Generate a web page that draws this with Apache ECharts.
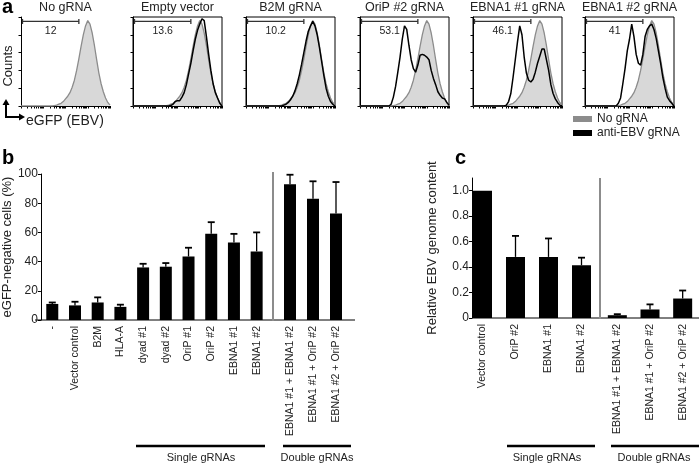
<!DOCTYPE html>
<html><head><meta charset="utf-8">
<script src="https://cdn.jsdelivr.net/npm/echarts@6/dist/echarts.min.js"></script>
<style>html,body{margin:0;padding:0;background:#fff}#c{width:699px;height:464px}</style>
</head><body><div id="c"></div><script>
// ---------------- data ----------------
const histTitles = ['No gRNA', 'Empty vector', 'B2M gRNA', 'OriP #2 gRNA', 'EBNA1 #1 gRNA', 'EBNA1 #2 gRNA'];
const gatePct = ['12', '13.6', '10.2', '53.1', '46.1', '41'];
const gateRange = [0, 65];
const histX = [0,2.5,5,7.5,10,12.5,15,17.5,20,22.5,25,27.5,30,32.5,35,37.5,40,42.5,45,47.5,50,52.5,55,57.5,60,62.5,65,67.5,70,72.5,75,77.5,80,82.5,85,87.5,90,92.5,95,97.5,100];
const noGrna      = [0,0,0,0,0,0,0,0,0,0,0,0,0,0,0, 0.5,1,2,3,5,8,11,15,21,29,40,53,67,80,90,96,92,82,68,52,37,25,16,9,4,1];
const antiEmpty   = [0,0,0,0,0,0,0,0,0,0,0,0,0,0,0,0,0, 0.5,2,5,6,6,10,15,24,36,48,62,75,85,92,98,96,78,58,40,25,15,9,3,0];
const antiB2M     = [0,0,0,0,0,0,0,0,0,0,0,0,0,0,0,0,0, 1,2,4,7,11,17,25,35,47,60,73,84,90,95,90,80,66,50,34,20,11,5,2,0];
const antiOriP2   = [0,0,0,0,0,0,0,0,0,0,0,0,0,0, 2,10,22,38,55,75,90,86,68,52,42,38,46,57,58,57,55,52,40,31,24,16,12,9,8,4,1];
const antiEbna1_1 = [0,0,0,0,0,0,0,0,0,0,0,0,0,0,0, 1,5,14,32,52,72,90,80,55,37,29,27,30,38,48,56,64,64,52,40,24,14,8,4,1,0];
const antiEbna1_2 = [0,0,0,0,0,0,0,0,0,0,0,0,0,0,0, 3,9,25,42,62,75,92,78,58,48,46,58,78,86,90,92,86,76,62,48,32,20,10,6,3,0];
const antiCurves = [null, antiEmpty, antiB2M, antiOriP2, antiEbna1_1, antiEbna1_2];

const bCatSingle = ['-', 'Vector control', 'B2M', 'HLA-A', 'dyad #1', 'dyad #2', 'OriP #1', 'OriP #2', 'EBNA1 #1', 'EBNA1 #2'];
const bValSingle = [11, 10, 12, 9, 36, 36.5, 43.5, 59, 53, 47];
const bErrSingle = [1, 2.5, 3.5, 1.5, 2.5, 2.5, 6, 8, 6, 13];
const bCatDouble = ['EBNA1 #1 + EBNA1 #2', 'EBNA1 #1 + OriP #2', 'EBNA1 #2 + OriP #2'];
const bValDouble = [93, 83, 73];
const bErrDouble = [6.5, 12, 21.5];
const bYTicks = [0, 20, 40, 60, 80, 100];

const cCatSingle = ['Vector control', 'OriP #2', 'EBNA1 #1', 'EBNA1 #2'];
const cValSingle = [1.0, 0.48, 0.48, 0.414];
const cErrSingle = [0, 0.165, 0.145, 0.06];
const cCatDouble = ['EBNA1 #1 + EBNA1 #2', 'EBNA1 #1 + OriP #2', 'EBNA1 #2 + OriP #2'];
const cValDouble = [0.022, 0.067, 0.153];
const cErrDouble = [0.008, 0.04, 0.063];
const cYTicks = [0, 0.2, 0.4, 0.6, 0.8, 1.0];

// ---------------- layout / style ----------------
const FONT = '"Liberation Sans", Arial, Helvetica, sans-serif';
const TXT = '#222';
const histLeft = [21, 133, 246, 360, 473, 585];
const histW = 89, histTop = 17, histH = 89;
const histTickPos = [];
[0, 25, 50, 75].forEach(d => { for (let k = 1; k <= 9; k++) histTickPos.push(d + 25 * Math.log10(k)); });
histTickPos.push(100);

const grids = [], xAxes = [], yAxes = [], series = [];
histLeft.forEach((l, i) => {
  grids.push({left: l, top: histTop, width: histW, height: histH, show: i > 0, borderColor: '#000', borderWidth: 1, backgroundColor: 'transparent'});
  xAxes.push({gridIndex: i, type: 'value', min: 0, max: 100,
    axisLine: {show: true, lineStyle: {color: '#000', width: 1}},
    axisTick: {show: true, length: 2.5, customValues: histTickPos, lineStyle: {color: '#000', width: 1}},
    axisLabel: {show: false}, splitLine: {show: false}});
  yAxes.push({gridIndex: i, type: 'value', min: 0, max: 100, interval: 20,
    axisLine: {show: true, lineStyle: {color: '#000', width: 1}},
    axisTick: {show: true, length: 2.5, lineStyle: {color: '#000', width: 1}},
    axisLabel: {show: false}, splitLine: {show: false}});
  series.push({type: 'line', name: 'No gRNA', xAxisIndex: i, yAxisIndex: i, symbol: 'none', z: 1,
    data: histX.map((x, k) => [x, noGrna[k]]), color: '#8c8c8c',
    lineStyle: {color: '#8c8c8c', width: 1.3}, areaStyle: {color: '#d8d8d8', opacity: 1}, silent: true});
  if (antiCurves[i]) {
    series.push({type: 'line', name: 'anti-EBV gRNA', xAxisIndex: i, yAxisIndex: i, symbol: 'none', z: 2,
      data: histX.map((x, k) => [x, antiCurves[i][k]]), color: '#000',
      lineStyle: {color: '#000', width: 1.5}, silent: true});
  }
  const pct = gatePct[i];
  series.push({type: 'custom', xAxisIndex: i, yAxisIndex: i, z: 3, silent: true,
    data: [[gateRange[0], gateRange[1], 95]],
    renderItem(params, api) {
      const a = api.coord([api.value(0), api.value(2)]);
      const b = api.coord([api.value(1), api.value(2)]);
      a[0] += 1.5;
      const ls = {stroke: '#333', lineWidth: 1.3};
      return {type: 'group', children: [
        {type: 'line', shape: {x1: a[0], y1: a[1], x2: b[0], y2: b[1]}, style: ls},
        {type: 'line', shape: {x1: a[0], y1: a[1] - 2.5, x2: a[0], y2: a[1] + 2.5}, style: ls},
        {type: 'line', shape: {x1: b[0], y1: b[1] - 2.5, x2: b[0], y2: b[1] + 2.5}, style: ls},
        {type: 'text', style: {text: pct, x: (a[0] + b[0]) / 2, y: a[1] + 4, align: 'center', verticalAlign: 'top',
          textAlign: 'center', textVerticalAlign: 'top', fontSize: 10.5, fontFamily: FONT, fill: TXT}}
      ]};
    }});
});

// bar panels
function catAxis(gi, data) {
  return {gridIndex: gi, type: 'category', data: data,
    axisLine: {show: false}, axisTick: {show: false}, splitLine: {show: false},
    axisLabel: {interval: 0, rotate: 90, fontSize: 10.5, color: TXT, margin: 6, fontFamily: FONT}};
}
function errSeries(gi, vals, errs) {
  return {type: 'custom', xAxisIndex: gi, yAxisIndex: gi, z: 3, silent: true,
    encode: {x: 0, y: [1, 2]},
    data: vals.map((v, i) => [i, v, v + errs[i]]),
    renderItem(params, api) {
      if (api.value(2) <= api.value(1)) return null;
      const lo = api.coord([api.value(0), api.value(1)]);
      const hi = api.coord([api.value(0), api.value(2)]);
      const w = 3.5;
      return {type: 'group', children: [
        {type: 'line', shape: {x1: lo[0], y1: lo[1], x2: hi[0], y2: hi[1]}, style: {stroke: '#000', lineWidth: 1.3}},
        {type: 'line', shape: {x1: hi[0] - w, y1: hi[1], x2: hi[0] + w, y2: hi[1]}, style: {stroke: '#000', lineWidth: 1.8}}
      ]};
    }};
}
const bTop = 174, bH = 146, cTop = 178, cH = 140;
// grid 6: b single, 7: b double, 8: c single, 9: c double
grids.push({left: 36, top: bTop, width: 232, height: bH});
grids.push({left: 278.5, top: bTop, width: 69, height: bH});
grids.push({left: 466, top: cTop, width: 132, height: cH});
grids.push({left: 601, top: cTop, width: 100, height: cH});
xAxes.push(catAxis(6, bCatSingle), catAxis(7, bCatDouble), catAxis(8, cCatSingle), catAxis(9, cCatDouble));
yAxes.push({gridIndex: 6, type: 'value', min: 0, max: 100,
  axisLine: {show: true, lineStyle: {color: '#000', width: 1}},
  axisTick: {show: true, length: 3, customValues: bYTicks, lineStyle: {color: '#000'}},
  axisLabel: {customValues: bYTicks, fontSize: 12, color: TXT, margin: 3, fontFamily: FONT},
  splitLine: {show: false},
  name: 'eGFP-negative cells (%)', nameLocation: 'middle', nameGap: 22,
  nameTextStyle: {fontSize: 13, color: TXT, fontFamily: FONT}});
yAxes.push({gridIndex: 7, type: 'value', min: 0, max: 100, show: false});
yAxes.push({gridIndex: 8, type: 'value', min: 0, max: 1.1, offset: -6,
  axisLine: {show: true, lineStyle: {color: '#000', width: 1}},
  axisTick: {show: true, length: 3, customValues: cYTicks, lineStyle: {color: '#000'}},
  axisLabel: {customValues: cYTicks, fontSize: 12, color: TXT, margin: 3, fontFamily: FONT,
    formatter: v => v === 0 ? '0' : v.toFixed(1)},
  splitLine: {show: false},
  name: 'Relative EBV genome content', nameLocation: 'middle', nameGap: 33,
  nameTextStyle: {fontSize: 13, color: TXT, fontFamily: FONT}});
yAxes.push({gridIndex: 9, type: 'value', min: 0, max: 1.1, show: false});

series.push({type: 'bar', xAxisIndex: 6, yAxisIndex: 6, data: bValSingle, barWidth: 12, itemStyle: {color: '#000'}, silent: true});
series.push({type: 'bar', xAxisIndex: 7, yAxisIndex: 7, data: bValDouble, barWidth: 12, itemStyle: {color: '#000'}, silent: true});
series.push({type: 'bar', xAxisIndex: 8, yAxisIndex: 8, data: cValSingle, barWidth: 19, itemStyle: {color: '#000'}, silent: true});
series.push({type: 'bar', xAxisIndex: 9, yAxisIndex: 9, data: cValDouble, barWidth: 19, itemStyle: {color: '#000'}, silent: true});
series.push(errSeries(6, bValSingle, bErrSingle), errSeries(7, bValDouble, bErrDouble),
            errSeries(8, cValSingle, cErrSingle), errSeries(9, cValDouble, cErrDouble));

// decorations
const G = [];
function line(x1, y1, x2, y2, color, w) {
  G.push({type: 'line', shape: {x1, y1, x2, y2}, style: {stroke: color, lineWidth: w}, silent: true});
}
function text(t, x, y, size, opts) {
  G.push(Object.assign({type: 'text', x: x, y: y, silent: true,
    style: Object.assign({text: t, fill: TXT, font: size + 'px ' + FONT, textAlign: 'center', textVerticalAlign: 'middle'}, (opts && opts.style) || {})},
    (opts && opts.el) || {}));
}
// histogram titles
histTitles.forEach((t, i) => text(t, histLeft[i] + histW / 2, 8, 12.5));
// Counts / eGFP axes arrow
G.push({type: 'polyline', shape: {points: [[6, 104], [6, 117], [20, 117]]}, style: {stroke: '#000', lineWidth: 2, fill: null}, silent: true});
G.push({type: 'polygon', shape: {points: [[6, 99], [2.5, 105], [9.5, 105]]}, style: {fill: '#000'}, silent: true});
G.push({type: 'polygon', shape: {points: [[25, 117], [19, 113.5], [19, 120.5]]}, style: {fill: '#000'}, silent: true});
text('eGFP (EBV)', 26, 121, 14, {style: {textAlign: 'left'}});
text('Counts', 8, 66, 13, {el: {rotation: Math.PI / 2}});
// panel letters
text('a', 2, 7, 20, {style: {textAlign: 'left', font: 'bold 20px ' + FONT, fill: '#000'}});
text('b', 2, 158, 20, {style: {textAlign: 'left', font: 'bold 20px ' + FONT, fill: '#000'}});
text('c', 455, 158, 20, {style: {textAlign: 'left', font: 'bold 20px ' + FONT, fill: '#000'}});
// x axis baselines and dividers
line(35, bTop + bH, 355, bTop + bH, '#000', 1);
line(472, cTop + cH, 699, cTop + cH, '#000', 1);
line(273, 172, 273, bTop + bH + 1, '#8c8c8c', 2);
line(600, 178, 600, cTop + cH + 1, '#8c8c8c', 2);
// group brackets
line(136, 446, 265, 446, '#000', 2.5); text('Single gRNAs', 201, 458, 11);
line(283, 446, 351, 446, '#000', 2.5); text('Double gRNAs', 317, 458, 11);
line(507, 446, 595, 446, '#000', 2.5); text('Single gRNAs', 547, 458, 11);
line(611, 446, 699, 446, '#000', 2.5); text('Double gRNAs', 654, 458, 11);

const option = {
  animation: false,
  backgroundColor: '#fff',
  textStyle: {fontFamily: FONT},
  grid: grids, xAxis: xAxes, yAxis: yAxes, series: series,
  legend: {data: [{name: 'No gRNA', itemStyle: {color: '#8c8c8c'}}, {name: 'anti-EBV gRNA', itemStyle: {color: '#000'}}],
    orient: 'vertical', left: 573, top: 113, itemWidth: 19, itemHeight: 6, itemGap: 2, icon: 'rect',
    padding: 0, selectedMode: false, textStyle: {fontSize: 12, color: TXT, fontFamily: FONT}},
  graphic: G
};
const chart = echarts.init(document.getElementById('c'), null, {renderer: 'canvas'});
chart.setOption(option);
</script></body></html>
